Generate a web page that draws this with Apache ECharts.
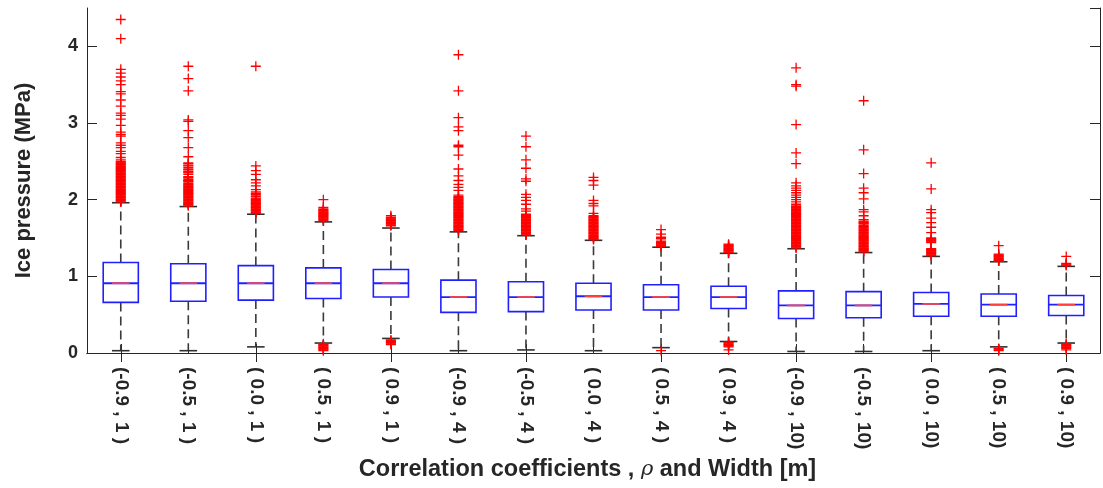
<!DOCTYPE html>
<html>
<head>
<meta charset="utf-8">
<script src="https://cdn.jsdelivr.net/npm/echarts@6/dist/echarts.min.js"></script>
<style>
  html, body { margin: 0; padding: 0; background: #ffffff; }
  #chart { width: 1103px; height: 488px; }
</style>
</head>
<body>
<div id="chart"></div>
<script>
// Correlation coefficient and width pairs along the x axis
const categories = [
  '(-0.9 , 1 )', '(-0.5 , 1 )', '( 0.0 , 1 )', '( 0.5 , 1 )', '( 0.9 , 1 )',
  '(-0.9 , 4 )', '(-0.5 , 4 )', '( 0.0 , 4 )', '( 0.5 , 4 )', '( 0.9 , 4 )',
  '(-0.9 , 10)', '(-0.5 , 10)', '( 0.0 , 10)', '( 0.5 , 10)', '( 0.9 , 10)'
];

// Box statistics per category: [lower whisker, Q1, median, Q3, upper whisker] in MPa
const lowerWhisker = [0.03, 0.03, 0.08, 0.13, 0.19, 0.03, 0.04, 0.03, 0.07, 0.15, 0.02, 0.02, 0.03, 0.08, 0.13];
const q1           = [0.66, 0.675, 0.69, 0.71, 0.73, 0.53, 0.54, 0.56, 0.56, 0.58, 0.45, 0.46, 0.48, 0.48, 0.49];
const median       = [0.91, 0.91, 0.91, 0.91, 0.91, 0.73, 0.73, 0.74, 0.73, 0.73, 0.62, 0.62, 0.64, 0.63, 0.63];
const q3           = [1.18, 1.165, 1.14, 1.11, 1.09, 0.95, 0.93, 0.91, 0.89, 0.87, 0.81, 0.80, 0.79, 0.77, 0.75];
const upperWhisker = [1.96, 1.91, 1.81, 1.71, 1.63, 1.58, 1.53, 1.47, 1.38, 1.30, 1.36, 1.31, 1.26, 1.19, 1.13];

// Outlying ice pressures (MPa) per category
const outliers = [
  [4.35, 4.10, 3.70, 3.65, 3.60, 3.55, 3.50, 3.41, 3.38, 3.30, 3.22, 3.13, 3.10, 3.05, 2.97, 2.88, 2.85, 2.83,
   2.74, 2.71, 2.68, 2.63, 2.60, 2.55, 2.52, 2.50, 2.49, 2.48, 2.47, 2.46, 2.45, 2.44, 2.43, 2.42, 2.41, 2.40,
   2.39, 2.38, 2.37, 2.36, 2.35, 2.34, 2.33, 2.32, 2.31, 2.30, 2.29, 2.28, 2.27, 2.26, 2.25, 2.24, 2.23, 2.22,
   2.21, 2.20, 2.19, 2.18, 2.17, 2.16, 2.15, 2.14, 2.13, 2.12, 2.11, 2.10, 2.09, 2.08, 2.07, 2.06, 2.05, 2.04,
   2.03, 2.02, 2.01, 2.00, 1.99, 1.98, 1.97],
  [3.74, 3.58, 3.42, 3.04, 3.02, 2.90, 2.81, 2.68, 2.56, 2.48, 2.47, 2.45, 2.44, 2.42, 2.40, 2.39, 2.37, 2.36,
   2.35, 2.33, 2.30, 2.29, 2.28, 2.26, 2.25, 2.24, 2.23, 2.21, 2.20, 2.19, 2.18, 2.17, 2.16, 2.15, 2.14, 2.13,
   2.12, 2.11, 2.10, 2.09, 2.08, 2.07, 2.06, 2.05, 2.04, 2.03, 2.02, 2.01, 2.00, 1.99, 1.98, 1.97, 1.96, 1.95,
   1.94, 1.93, 1.92],
  [3.74, 2.44, 2.38, 2.33, 2.26, 2.22, 2.18, 2.13, 2.10, 2.08, 2.07, 2.05, 2.04, 2.02, 2.01, 2.00, 1.99, 1.98,
   1.97, 1.96, 1.95, 1.94, 1.93, 1.92, 1.91, 1.90, 1.89, 1.88, 1.87, 1.86, 1.85, 1.84, 1.83, 1.82],
  [2.00, 1.90, 1.88, 1.87, 1.86, 1.85, 1.84, 1.83, 1.82, 1.81, 1.80, 1.79, 1.78, 1.77, 1.76, 1.75, 1.74, 1.73,
   0.12, 0.11, 0.10, 0.09, 0.08, 0.07, 0.06, 0.05, 0.04, 0.03],
  [1.79, 1.77, 1.76, 1.75, 1.74, 1.73, 1.72, 1.71, 1.70, 1.69, 1.68, 1.67, 1.66,
   0.17, 0.16, 0.15, 0.14, 0.13, 0.12, 0.11],
  [3.89, 3.42, 3.07, 2.95, 2.90, 2.71, 2.69, 2.58, 2.40, 2.31, 2.25, 2.20, 2.16, 2.12, 2.06, 2.04, 2.03, 2.02,
   2.01, 2.00, 1.99, 1.98, 1.97, 1.96, 1.95, 1.94, 1.93, 1.92, 1.91, 1.90, 1.89, 1.88, 1.87, 1.86, 1.85, 1.84,
   1.83, 1.82, 1.81, 1.80, 1.79, 1.78, 1.77, 1.76, 1.75, 1.74, 1.73, 1.72, 1.71, 1.70, 1.69, 1.68, 1.67, 1.66,
   1.65, 1.64, 1.63, 1.62, 1.61, 1.60],
  [2.83, 2.69, 2.52, 2.41, 2.27, 2.24, 2.07, 2.03, 1.99, 1.94, 1.88, 1.85, 1.81, 1.80, 1.79, 1.78, 1.77, 1.76,
   1.75, 1.74, 1.73, 1.72, 1.71, 1.70, 1.69, 1.68, 1.67, 1.66, 1.65, 1.64, 1.63, 1.62, 1.61, 1.60, 1.59, 1.58,
   1.57, 1.56, 1.55, 1.54],
  [2.29, 2.25, 2.19, 1.99, 1.95, 1.92, 1.82, 1.79, 1.78, 1.77, 1.76, 1.75, 1.74, 1.73, 1.72, 1.71, 1.70, 1.69,
   1.68, 1.67, 1.66, 1.65, 1.64, 1.63, 1.62, 1.61, 1.60, 1.59, 1.58, 1.57, 1.56, 1.55, 1.54, 1.53, 1.52, 1.51,
   1.50, 1.49, 1.48],
  [1.61, 1.55, 1.51, 1.49, 1.46, 1.45, 1.44, 1.43, 1.42, 1.41, 1.40, 1.39, 0.03],
  [1.42, 1.41, 1.40, 1.39, 1.38, 1.37, 1.36, 1.35, 1.34, 1.33, 1.32, 1.31,
   0.14, 0.13, 0.12, 0.11, 0.10, 0.09, 0.08, 0.04],
  [3.72, 3.50, 3.48, 2.98, 2.61, 2.47, 2.22, 2.18, 2.15, 2.12, 2.09, 2.06, 2.03, 2.00, 1.97, 1.94, 1.92, 1.91,
   1.90, 1.89, 1.88, 1.87, 1.86, 1.85, 1.84, 1.83, 1.82, 1.81, 1.80, 1.79, 1.78, 1.77, 1.76, 1.75, 1.74, 1.73,
   1.72, 1.71, 1.70, 1.69, 1.68, 1.67, 1.66, 1.65, 1.64, 1.63, 1.62, 1.61, 1.60, 1.59, 1.58, 1.57, 1.56, 1.55,
   1.54, 1.53, 1.52, 1.51, 1.50, 1.49, 1.48, 1.47, 1.46, 1.45, 1.44, 1.43, 1.42, 1.41, 1.40, 1.39, 1.38, 1.37],
  [3.29, 2.65, 2.34, 2.15, 2.09, 2.01, 1.87, 1.84, 1.79, 1.74, 1.72, 1.71, 1.70, 1.69, 1.68, 1.66, 1.65, 1.64,
   1.63, 1.62, 1.61, 1.60, 1.59, 1.58, 1.57, 1.56, 1.55, 1.54, 1.53, 1.52, 1.51, 1.50, 1.49, 1.48, 1.47, 1.46,
   1.45, 1.44, 1.43, 1.42, 1.41, 1.40, 1.39, 1.38, 1.37, 1.36, 1.35, 1.34, 1.33, 1.32],
  [2.48, 2.14, 1.87, 1.83, 1.76, 1.70, 1.64, 1.57, 1.50, 1.49, 1.48, 1.47, 1.46, 1.45, 1.44,
   1.36, 1.35, 1.34, 1.33, 1.32, 1.31, 1.30, 1.29, 1.28, 1.27],
  [1.40, 1.29, 1.28, 1.27, 1.26, 1.25, 1.24, 1.23, 1.22, 1.21, 1.20, 0.06, 0.05, 0.04, 0.03],
  [1.26, 1.17, 1.16, 1.15, 1.14, 0.12, 0.11, 0.10, 0.09, 0.08, 0.07, 0.06, 0.04]
];

// Y axis tick values
const yTicks = [0, 1, 2, 3, 4];

const boxData = categories.map((c, i) => [i, lowerWhisker[i], q1[i], median[i], q3[i], upperWhisker[i]]);
const outlierData = [];
outliers.forEach((list, i) => list.forEach(v => outlierData.push([i, v])));

const FONT = '"Liberation Sans", Arial, Helvetica, sans-serif';
const AXIS_COLOR = '#262626';

function renderBox(params, api) {
  const x = api.value(0);
  const lo = api.coord([x, api.value(1)]);
  const b1 = api.coord([x, api.value(2)]);
  const md = api.coord([x, api.value(3)]);
  const b3 = api.coord([x, api.value(4)]);
  const hi = api.coord([x, api.value(5)]);
  const band = api.size([1, 0])[0];
  const half = band * 0.26;
  const capHalf = band * 0.13;
  const redHalf = band * 0.13;
  const cx = md[0];
  const whisker = { stroke: '#3a3a3a', lineWidth: 1.6, lineDash: [9, 5] };
  const cap = { stroke: '#303030', lineWidth: 1.6 };
  const blue = { stroke: '#2020ff', lineWidth: 1.6, fill: null };
  return {
    type: 'group',
    children: [
      { type: 'line', shape: { x1: cx, y1: b3[1], x2: cx, y2: hi[1] }, style: whisker },
      { type: 'line', shape: { x1: cx, y1: b1[1], x2: cx, y2: lo[1] }, style: whisker },
      { type: 'line', shape: { x1: cx - capHalf, y1: hi[1], x2: cx + capHalf, y2: hi[1] }, style: cap },
      { type: 'line', shape: { x1: cx - capHalf, y1: lo[1], x2: cx + capHalf, y2: lo[1] }, style: cap },
      { type: 'rect', shape: { x: cx - half, y: b3[1], width: half * 2, height: b1[1] - b3[1] }, style: blue },
      { type: 'line', shape: { x1: cx - half, y1: md[1], x2: cx + half, y2: md[1] }, style: { stroke: '#2020ff', lineWidth: 1.8 } },
      { type: 'line', shape: { x1: cx - redHalf, y1: md[1], x2: cx + redHalf, y2: md[1] }, style: { stroke: '#ff4040', lineWidth: 1.8 } }
    ]
  };
}

const chart = echarts.init(document.getElementById('chart'), null, { renderer: 'canvas' });

chart.setOption({
  animation: false,
  backgroundColor: '#ffffff',
  grid: { left: 87, right: 3, top: 8, bottom: 135 },
  xAxis: [
    {
      type: 'category',
      data: categories,
      boundaryGap: true,
      position: 'bottom',
      axisLine: { show: true, lineStyle: { color: AXIS_COLOR, width: 1 } },
      axisTick: { show: true, inside: true, length: 9, alignWithLabel: true, lineStyle: { color: AXIS_COLOR } },
      axisLabel: {
        rotate: -90, margin: 14, interval: 0,
        color: AXIS_COLOR, fontFamily: FONT, fontWeight: 'bold', fontSize: 19
      },
      splitLine: { show: false },
      name: 'Correlation coefficients , {i|ρ} and Width [m]',
      nameLocation: 'middle',
      nameGap: 105,
      nameTextStyle: {
        color: AXIS_COLOR, fontFamily: FONT, fontWeight: 'bold', fontSize: 23.5, padding: [0, 12, 0, 0],
        rich: { i: { fontFamily: '"DejaVu Serif", serif', fontStyle: 'italic', fontWeight: 'normal', fontSize: 21, color: AXIS_COLOR } }
      }
    },
    {
      type: 'category',
      data: categories,
      boundaryGap: true,
      position: 'top',
      axisLine: { show: true, lineStyle: { color: AXIS_COLOR, width: 1 } },
      axisTick: { show: true, inside: true, length: 9, alignWithLabel: true, lineStyle: { color: AXIS_COLOR } },
      axisLabel: { show: false },
      splitLine: { show: false }
    }
  ],
  yAxis: [
    {
      type: 'value',
      min: 0, max: 4.5, interval: 1,
      position: 'left',
      axisLine: { show: true, lineStyle: { color: AXIS_COLOR, width: 1 } },
      axisTick: { show: true, inside: true, length: 10, lineStyle: { color: AXIS_COLOR } },
      axisLabel: {
        showMaxLabel: false, margin: 9,
        color: AXIS_COLOR, fontFamily: FONT, fontWeight: 'bold', fontSize: 18,
        formatter: v => (yTicks.indexOf(v) >= 0 ? String(v) : '')
      },
      splitLine: { show: false },
      name: 'Ice pressure (MPa)',
      nameLocation: 'middle',
      nameRotate: 90,
      nameGap: 52,
      nameTextStyle: { color: AXIS_COLOR, fontFamily: FONT, fontWeight: 'bold', fontSize: 22 }
    },
    {
      type: 'value',
      min: 0, max: 4.5, interval: 1,
      position: 'right',
      axisLine: { show: true, lineStyle: { color: AXIS_COLOR, width: 1 } },
      axisTick: { show: true, inside: true, length: 10, lineStyle: { color: AXIS_COLOR } },
      axisLabel: { show: false },
      splitLine: { show: false }
    }
  ],
  series: [
    {
      type: 'custom',
      name: 'box',
      xAxisIndex: 0, yAxisIndex: 0,
      renderItem: renderBox,
      encode: { x: 0, y: [1, 2, 3, 4, 5] },
      data: boxData,
      z: 2
    },
    {
      type: 'scatter',
      name: 'outliers',
      xAxisIndex: 0, yAxisIndex: 0,
      symbol: 'path://M0,5L10,5M5,0L5,10',
      symbolSize: 10,
      itemStyle: { color: 'none', borderColor: '#ff0000', borderWidth: 1.3, opacity: 1 },
      emphasis: { disabled: true },
      data: outlierData,
      z: 3
    }
  ]
});
</script>
</body>
</html>
